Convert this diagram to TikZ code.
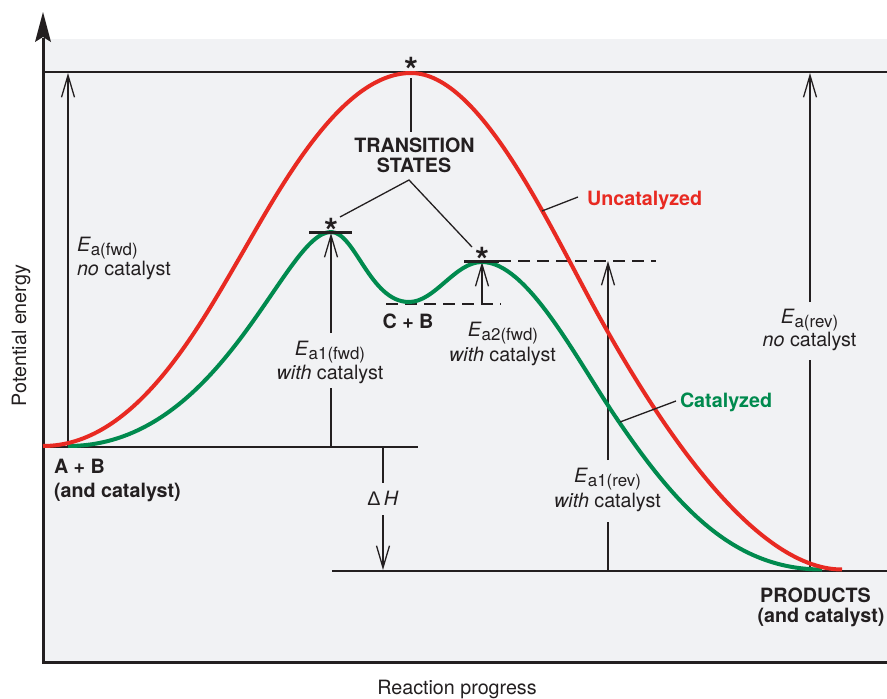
\documentclass[tikz,border=0pt]{standalone}
\usepackage{fontspec}
\setmainfont{TeX Gyre Heros}
\newfontfamily\grkfont{Liberation Sans}
\usetikzlibrary{arrows.meta}
\definecolor{ink}{RGB}{35,31,32}
\definecolor{panelc}{RGB}{241,242,244}
\definecolor{redc}{RGB}{232,42,34}
\definecolor{greenc}{RGB}{0,138,78}
\newcommand\EaLab[1]{\textit{E}\raisebox{-4pt}{\fontsize{16.9}{17}\selectfont #1}}
\begin{document}
\begin{tikzpicture}[x=1pt,y=-1pt,
  lbl/.style={font=\fontsize{19.7}{23}\selectfont, text=ink, inner sep=0pt, outer sep=0pt},
  blbl/.style={font=\fontsize{19.7}{23}\selectfont\bfseries, text=ink, inner sep=0pt, outer sep=0pt},
  star/.style={font=\fontsize{36}{36}\selectfont\bfseries, text=ink, inner sep=0pt, anchor=base},
  thinline/.style={draw=ink, line width=1.3pt},
  baseline/.style={draw=ink, line width=2pt},
  peakbar/.style={draw=ink, line width=3pt},
  dashline/.style={draw=ink, line width=1.4pt, dash pattern=on 12pt off 7pt},
  eaarrow/.style={thinline, -{Straight Barb[length=22pt,width=13pt]}},
  curve/.style={line width=4pt, line join=round},
]
\useasboundingbox (0,0) rectangle (887,699);
\fill[panelc] (43,39) rectangle (887,662);

% axes
\coordinate (axtop) at (43,38);
\coordinate (axorigin) at (43,662);
\coordinate (axright) at (887,662);
\draw[ink, line width=3pt, line join=miter] (axtop) -- (axorigin) -- (axright);
\fill[ink] (43,12) -- (51,42) -- (43,37) -- (35,42) -- cycle;

% energy levels
\coordinate (topL) at (43,72);
\coordinate (topR) at (887,72);
\draw[ink, line width=1.8pt] (topL) -- (topR);
\coordinate (abL) at (43,447);
\coordinate (abR) at (418,447);
\draw[baseline] (abL) -- (abR);
\coordinate (prL) at (332,571);
\coordinate (prR) at (887,571);
\draw[baseline] (prL) -- (prR);

% dashed levels
\coordinate (cbL) at (386,304);
\coordinate (cbR) at (501,304);
\draw[dashline] (cbL) -- (cbR);
\coordinate (ts2L) at (499,261);
\coordinate (ts2R) at (656,261);
\draw[dashline] (ts2L) -- (ts2R);

% activation energy arrows
\coordinate (a1s) at (68,447);
\coordinate (a1e) at (68,73);
\draw[eaarrow] (a1s) -- (a1e);

\coordinate (a2s) at (331,447);
\coordinate (a2m) at (331,388);
\coordinate (a2n) at (331,333);
\coordinate (a2e) at (331,233);
\draw[thinline] (a2s) -- (a2m);
\draw[eaarrow] (a2n) -- (a2e);

\coordinate (a3s) at (482,304);
\coordinate (a3e) at (482,262);
\draw[eaarrow] (a3s) -- (a3e);

\coordinate (a4s) at (608,571);
\coordinate (a4m) at (608,522);
\coordinate (a4n) at (608,460);
\coordinate (a4e) at (608,261);
\draw[thinline] (a4s) -- (a4m);
\draw[eaarrow] (a4n) -- (a4e);

\coordinate (a5s) at (810,571);
\coordinate (a5m) at (810,360);
\coordinate (a5n) at (810,302);
\coordinate (a5e) at (810,73);
\draw[thinline] (a5s) -- (a5m);
\draw[eaarrow] (a5n) -- (a5e);

\coordinate (dhs) at (383,447);
\coordinate (dhm) at (383,483);
\coordinate (dhn) at (383,515);
\coordinate (dhe) at (383,570);
\draw[thinline] (dhs) -- (dhm);
\draw[eaarrow] (dhn) -- (dhe);

% curves
\coordinate (g0) at (68,446);
\coordinate (g1) at (331,232);
\coordinate (g2) at (409,302);
\coordinate (g3) at (482,262);
\coordinate (g4) at (615,416);
\coordinate (g5) at (822,569.5);
\draw[curve, greenc] (g0) .. controls (223,446) and (284,232) .. (g1)
  .. controls (355,232) and (370,302) .. (g2)
  .. controls (435,302) and (455,262) .. (g3)
  .. controls (527,262) and (575,356.8) .. (g4)
  .. controls (675,504.8) and (732,569.5) .. (g5);
\coordinate (r0) at (43,446);
\coordinate (r1) at (240,257);
\coordinate (r2) at (411,73);
\coordinate (r3) at (600,318);
\coordinate (r4) at (842,569.5);
\draw[curve, redc] (r0) .. controls (133,446) and (195,334.4) .. (r1)
  .. controls (280,188.2) and (341,73) .. (r2)
  .. controls (481,73) and (550,228) .. (r3)
  .. controls (655,417) and (752,569.5) .. (r4);

% transition state bars
\coordinate (b1L) at (309,232);
\coordinate (b1R) at (352,232);
\draw[peakbar] (b1L) -- (b1R);
\coordinate (b2L) at (464,261);
\coordinate (b2R) at (499,261);
\draw[peakbar] (b2L) -- (b2R);

% asterisks
\node[star] (st0) at (411,83) {*};
\node[star] (st1) at (331,244) {*};
\node[star] (st2) at (482,273) {*};

% transition states label and leaders
\node[blbl, anchor=base] (ts1) at (414.5,152) {TRANSITION};
\node[blbl, anchor=base] (ts2) at (414,172) {STATES};
\coordinate (tsv1) at (411,78);
\coordinate (tsv2) at (411,132);
\draw[thinline] (tsv1) -- (tsv2);
\coordinate (apex) at (409,180);
\coordinate (lt1) at (340,217);
\coordinate (lt2) at (472,247);
\draw[thinline, line join=miter] (lt1) -- (apex) -- (lt2);

% curve labels
\node[blbl, text=redc, anchor=base west] (unc) at (587,205) {Uncatalyzed};
\coordinate (unc1) at (578,197);
\coordinate (unc2) at (542,211);
\draw[thinline] (unc1) -- (unc2);
\node[blbl, text=greenc, anchor=base west] (cat) at (680,407) {Catalyzed};
\coordinate (cat1) at (676,401);
\coordinate (cat2) at (620,422);
\draw[thinline] (cat1) -- (cat2);

% energy labels
\node[lbl, anchor=base west] (eaf1) at (77,251) {\EaLab{a(fwd)}};
\node[lbl, anchor=base west] (eaf2) at (77,275) {\textit{no} catalyst};
\node[lbl, anchor=base] (ea1f1) at (330,355) {\EaLab{a1(fwd)}};
\node[lbl, anchor=base] (ea1f2) at (330,379) {\textit{with} catalyst};
\node[lbl, anchor=base] (ea2f1) at (503,336) {\EaLab{a2(fwd)}};
\node[lbl, anchor=base] (ea2f2) at (502.5,361) {\textit{with} catalyst};
\node[lbl, anchor=base] (ea1r1) at (607.5,482) {\EaLab{a1(rev)}};
\node[lbl, anchor=base] (ea1r2) at (607.5,507) {\textit{with} catalyst};
\node[lbl, anchor=base] (ear1) at (809.5,323) {\EaLab{a(rev)}};
\node[lbl, anchor=base] (ear2) at (809.5,346) {\textit{no} catalyst};
\node[lbl, anchor=base] (dh) at (383,505) {{\grkfont Δ}\,\textit{H}};

\node[blbl, anchor=base] (cb) at (408,328) {C + B};
\node[blbl, anchor=base west] (ab1) at (54,473) {A + B};
\node[blbl, anchor=base west] (ab2) at (54,497) {(and catalyst)};
\node[blbl, anchor=base] (pr1) at (815.5,602) {PRODUCTS};
\node[blbl, anchor=base] (pr2) at (821,622) {(and catalyst)};

% axis titles
\node[lbl, anchor=base] (xt) at (457,694) {Reaction progress};
\node[lbl, anchor=base, rotate=90] (yt) at (26,335.5) {Potential energy};
\end{tikzpicture}
\end{document}
